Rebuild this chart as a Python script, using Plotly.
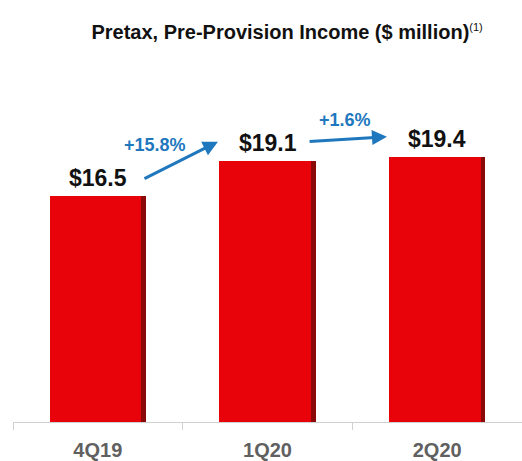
import plotly.graph_objects as go

# Quarterly pretax, pre-provision income ($ million)
quarters = ["4Q19", "1Q20", "2Q20"]
income = [16.5, 19.1, 19.4]

FONT = "Liberation Sans, Arial, sans-serif"
RED = "#E8030B"
BLUE = "#1F78BE"

full_w = 0.566
face_w = 0.54

fig = go.Figure()

# darker bevel strip on the right of each bar
fig.add_trace(go.Bar(
    x=quarters, y=income, width=full_w, offset=-full_w / 2,
    marker=dict(color="#8A0A0A", line=dict(width=0)),
    hoverinfo="skip", showlegend=False,
))
# red bar face
fig.add_trace(go.Bar(
    x=quarters, y=income, width=face_w, offset=-full_w / 2,
    marker=dict(color=RED, line=dict(width=0)),
    showlegend=False,
))

annotations = []

# value labels above each bar
for q, v in zip(quarters, income):
    annotations.append(dict(
        x=q, y=v, xref="x", yref="y", text=f"<b>${v:.1f}</b>",
        showarrow=False, yanchor="bottom", yshift=3,
        font=dict(family=FONT, size=23, color="#111111"),
    ))

# growth arrows between consecutive quarters
arrow_tails = [(0.266, 17.73), (1.239, 20.49)]
arrow_heads = [(0.708, 20.49), (1.704, 20.86)]
pct_pos = [(0.337, 20.28), (1.457, 22.09)]
for i in range(len(income) - 1):
    pct = (income[i + 1] / income[i] - 1) * 100
    (tx, ty), (hx, hy), (lx, ly) = arrow_tails[i], arrow_heads[i], pct_pos[i]
    annotations.append(dict(
        x=hx, y=hy, ax=tx, ay=ty, xref="x", yref="y", axref="x", ayref="y",
        text="", showarrow=True, arrowhead=2, arrowsize=1.0, arrowwidth=3,
        arrowcolor=BLUE,
    ))
    annotations.append(dict(
        x=lx, y=ly, xref="x", yref="y", text=f"<b>+{pct:.1f}%</b>",
        showarrow=False, font=dict(family=FONT, size=18, color=BLUE),
    ))

fig.update_layout(
    width=522, height=461,
    margin=dict(l=13, r=0, t=80, b=37),
    paper_bgcolor="white", plot_bgcolor="white",
    barmode="overlay", bargap=0,
    title=dict(
        text="<b>Pretax, Pre-Provision Income ($ million)</b>"
             "<sup><span style='font-size:11px'>(1)</span></sup>",
        x=0.55, xanchor="center", y=0.93, yanchor="middle",
        font=dict(family=FONT, size=20, color="#111111"),
    ),
    annotations=annotations,
    xaxis=dict(
        type="category", showline=True, linecolor="#D0D0D0", linewidth=1,
        ticks="outside", tickson="boundaries", ticklen=7, tickcolor="#D0D0D0",
        ticklabelstandoff=10,
        tickfont=dict(family=FONT, size=20, color="#606060"),
        tickprefix="<b>", ticksuffix="</b>", showgrid=False,
    ),
    yaxis=dict(range=[0, 25], visible=False, showgrid=False),
)

fig.write_html("out.html")
